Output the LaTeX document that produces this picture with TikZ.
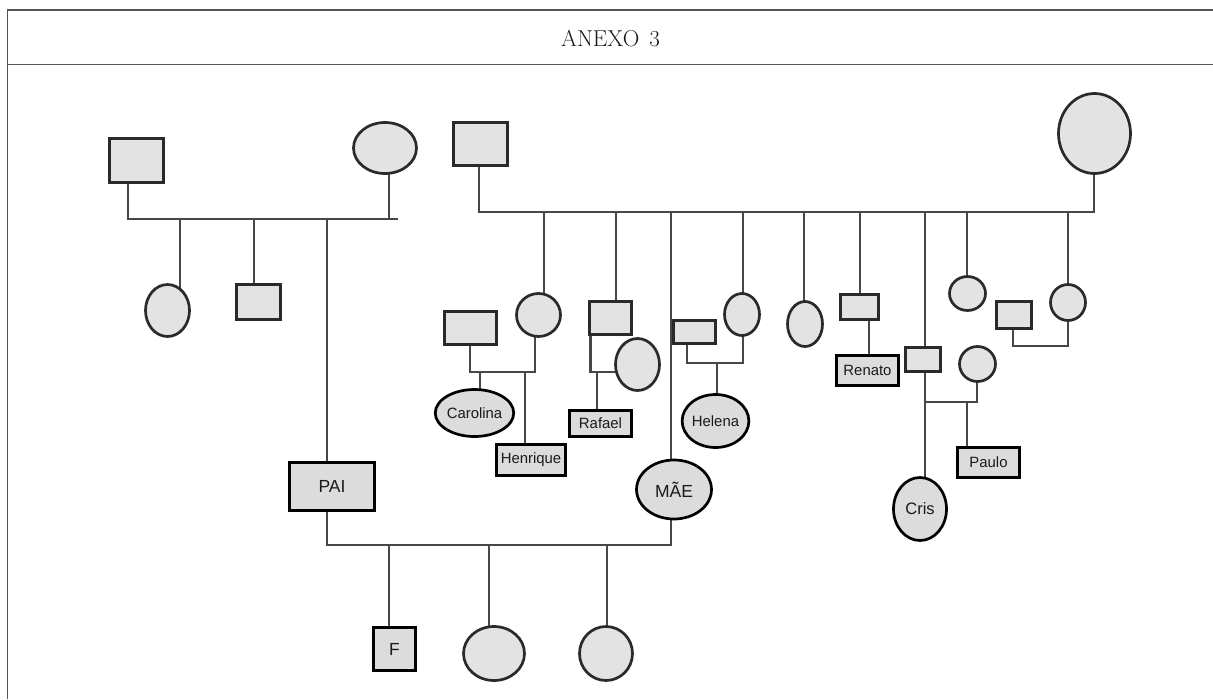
\documentclass[tikz,border=0pt]{standalone}
\usepackage{fontspec}
\newfontfamily\lab{Liberation Sans}
\usetikzlibrary{shapes.geometric,backgrounds}
\definecolor{pfill}{HTML}{E3E3E3}
\definecolor{lfill}{HTML}{DCDCDC}
\definecolor{pdraw}{HTML}{2A2A2A}
\definecolor{conc}{HTML}{474747}
\definecolor{framec}{HTML}{555555}
\definecolor{txt}{HTML}{1A1A1A}
\begin{document}
\begin{tikzpicture}[x=1pt,y=-1pt,
  sq/.style 2 args={rectangle,draw=pdraw,fill=pfill,line width=2.7pt,inner sep=0pt,minimum width=#1,minimum height=#2},
  el/.style 2 args={ellipse,draw=pdraw,fill=pfill,line width=2.7pt,inner sep=0pt,minimum width=#1,minimum height=#2},
  lsq/.style 2 args={rectangle,draw=black,fill=lfill,line width=2.7pt,inner sep=0pt,minimum width=#1,minimum height=#2,text=txt,font=\lab\fontsize{14.9}{16}\selectfont},
  lel/.style 2 args={ellipse,draw=black,fill=lfill,line width=2.7pt,inner sep=0pt,minimum width=#1,minimum height=#2,text=txt,font=\lab\fontsize{14.9}{16}\selectfont},
  bigfont/.style={font=\lab\fontsize{17.5}{19}\selectfont},
  conn/.style={draw=conc,line width=2.6pt,line join=miter},
  framel/.style={draw=framec,line width=1.8pt}]
\useasboundingbox (0,0) rectangle (1213,699);
% frame
\draw[framel] (1213,10) -- (7.5,10) -- (7.5,699);
\draw[framel] (7.5,64.5) -- (1213,64.5);
\node[anchor=base,text=txt,font=\fontsize{23}{25}\selectfont] (title) at (610.5,46.7) {ANEXO\hspace{10pt}3};
% left family
\node[sq={54}{44}] (gf1) at (136.5,160.5) {};
\node[el={63}{51}] (gm1) at (385,148) {};
\node[el={44}{52}] (k1) at (167.5,310.5) {};
\node[sq={44}{35}] (k2) at (258.5,302) {};
\node[lsq={85}{48},bigfont] (pai) at (332,486.5) {PAI};
% right family
\node[sq={54}{43}] (gf2) at (480.5,144) {};
\node[el={72}{80}] (gm2) at (1094.5,133.5) {};
\node[sq={52}{33}] (cfa) at (470.5,328) {};
\node[el={44}{43}] (cmo) at (538.5,315) {};
\node[lel={74}{47}] (carolina) at (474.5,413) {Carolina};
\node[lsq={69}{31}] (henrique) at (531,460) {Henrique};
\node[sq={42}{33}] (rfa) at (610.5,318) {};
\node[el={44}{52}] (rmo) at (637.5,364.5) {};
\node[lsq={62}{26}] (rafael) at (600.5,423.5) {Rafael};
\node[lel={75}{59},bigfont] (mae) at (674,489.5) {MÃE};
\node[sq={42}{23}] (hfa) at (694.5,332) {};
\node[el={35}{42}] (hmo) at (742,314.5) {};
\node[lel={64}{53}] (helena) at (715.5,421) {Helena};
\node[el={35}{45}] (s5) at (805,324) {};
\node[sq={38}{25}] (rpa) at (859.5,307) {};
\node[lsq={62}{30}] (renato) at (867.5,370.5) {Renato};
\node[sq={35}{24}] (cpa) at (923,359.5) {};
\node[el={36}{35}] (cmo2) at (977.5,364) {};
\node[lel={53}{63},font=\lab\fontsize{16.5}{18}\selectfont] (cris) at (920,509) {Cris};
\node[lsq={62}{30}] (paulo) at (988.5,462.5) {Paulo};
\node[el={36}{34}] (s8) at (967.5,293.5) {};
\node[el={35}{36}] (s9) at (1068,302.5) {};
\node[sq={35}{27}] (s9h) at (1014,315) {};
% children of PAI and MAE
\node[lsq={42}{43},bigfont] (f) at (394.5,649) {F};
\node[el={61}{54}] (d1) at (494,653.5) {};
\node[el={53}{54}] (d2) at (606,653.5) {};
% coordinates of junctions
\coordinate (L0) at (128,219);
\coordinate (L1) at (180,219);
\coordinate (L2) at (254,219);
\coordinate (L3) at (327,219);
\coordinate (L4) at (389,219);
\coordinate (L5) at (398,219);
\coordinate (B0) at (327,545);
\coordinate (B1) at (389,545);
\coordinate (B2) at (489,545);
\coordinate (B3) at (607,545);
\coordinate (B4) at (671,545);
\coordinate (R0) at (479,212);
\coordinate (R1) at (544,212);
\coordinate (R2) at (616,212);
\coordinate (R3) at (671,212);
\coordinate (R4) at (743,212);
\coordinate (R5) at (804,212);
\coordinate (R6) at (860,212);
\coordinate (R7) at (925,212);
\coordinate (R8) at (967,212);
\coordinate (R9) at (1068,212);
\coordinate (R10) at (1094,212);
\coordinate (C1) at (470,372);
\coordinate (C2) at (535,372);
\coordinate (C3) at (480,372);
\coordinate (C4) at (525,372);
\coordinate (D1) at (590.5,372);
\coordinate (D2) at (597,372);
\coordinate (H1) at (687,363);
\coordinate (H2) at (743,363);
\coordinate (H3) at (717,363);
\coordinate (E1) at (869,340);
\coordinate (P0) at (925,402);
\coordinate (P1) at (977,402);
\coordinate (P2) at (967,402);
\coordinate (Q1) at (1013,346);
\coordinate (Q2) at (1068,346);
\begin{scope}[on background layer]
% left family
\draw[conn] (gf1.center -| L0) -- (L0) -- (L5);
\draw[conn] (gm1.center -| L4) -- (L4);
\draw[conn] (L1) -- (k1.center -| L1);
\draw[conn] (L2) -- (k2.center -| L2);
\draw[conn] (L3) -- (pai.center -| L3) -- (B0) -- (B4) -- (mae.center -| B4) -- (R3);
% right family bus
\draw[conn] (gf2.center -| R0) -- (R0) -- (R10) -- (gm2.center -| R10);
% Carolina / Henrique
\draw[conn] (R1) -- (cmo.center -| R1);
\draw[conn] (cfa.center -| C1) -- (C1) -- (C2) -- (cmo.center -| C2);
\draw[conn] (C3) -- (carolina.center -| C3);
\draw[conn] (C4) -- (henrique.center -| C4);
% Rafael
\draw[conn] (R2) -- (rfa.center -| R2);
\draw[conn] (rfa.center -| D1) -- (D1) -- (rmo.center |- D1);
\draw[conn] (D2) -- (rafael.center -| D2);
% Helena
\draw[conn] (R4) -- (hmo.center -| R4);
\draw[conn] (hfa.center -| H1) -- (H1) -- (H2) -- (hmo.center -| H2);
\draw[conn] (H3) -- (helena.center -| H3);
% single
\draw[conn] (R5) -- (s5.center -| R5);
% Renato
\draw[conn] (R6) -- (rpa.center -| R6);
\draw[conn] (rpa.center -| E1) -- (renato.center -| E1);
% Cris / Paulo
\draw[conn] (R7) -- (cpa.center -| R7) -- (cris.center -| R7);
\draw[conn] (cmo2.center -| P1) -- (P1) -- (P0);
\draw[conn] (P2) -- (paulo.center -| P2);
% others
\draw[conn] (R8) -- (s8.center -| R8);
\draw[conn] (R9) -- (s9.center -| R9);
\draw[conn] (s9h.center -| Q1) -- (Q1) -- (Q2) -- (s9.center -| Q2);
% children of PAI and MAE
\draw[conn] (B1) -- (f.center -| B1);
\draw[conn] (B2) -- (d1.center -| B2);
\draw[conn] (B3) -- (d2.center -| B3);
\end{scope}
\end{tikzpicture}
\end{document}
